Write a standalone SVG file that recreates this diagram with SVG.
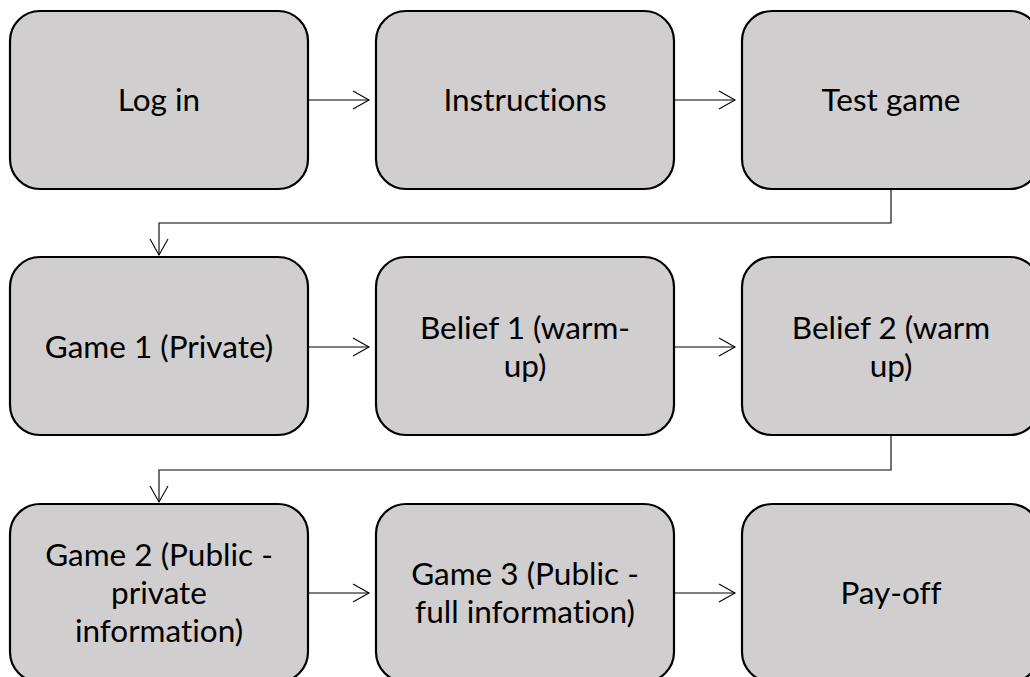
<svg xmlns="http://www.w3.org/2000/svg" width="1030" height="677" viewBox="0 0 1030 677">
<style>
.box{fill:#d0cece;stroke:#000;stroke-width:2.2}
.lbl{font-family:Lato,"Open Sans","Liberation Sans",sans-serif;font-size:31.5px;fill:#000;text-anchor:middle;font-variant-ligatures:none;font-feature-settings:"liga" 0,"dlig" 0}
.con{fill:none;stroke:#000;stroke-width:1.1}
</style>
<defs>
<marker id="arr" markerWidth="20" markerHeight="22" refX="17" refY="10" orient="auto" markerUnits="userSpaceOnUse">
<path d="M1,1 L17,10 L1,19" fill="none" stroke="#000" stroke-width="1.1"/>
</marker>
</defs>
<rect width="1030" height="677" fill="#fff"/>
<g id="n1"><rect class="box" x="10" y="11" width="298" height="178" rx="30"/><text class="lbl" x="159" y="111">Log in</text></g>
<g id="n2"><rect class="box" x="376" y="11" width="298" height="178" rx="30"/><text class="lbl" x="525" y="111">Instructions</text></g>
<g id="n3"><rect class="box" x="742" y="11" width="298" height="178" rx="30"/><text class="lbl" x="891" y="111">Test game</text></g>
<g id="n4"><rect class="box" x="10" y="257" width="298" height="178" rx="30"/><text class="lbl" x="159" y="358">Game 1 (Private)</text></g>
<g id="n5"><rect class="box" x="376" y="257" width="298" height="178" rx="30"/><text class="lbl" x="525" y="339">Belief 1 (warm-</text><text class="lbl" x="525" y="377">up)</text></g>
<g id="n6"><rect class="box" x="742" y="257" width="298" height="178" rx="30"/><text class="lbl" x="891" y="339">Belief 2 (warm</text><text class="lbl" x="891" y="377">up)</text></g>
<g id="n7"><rect class="box" x="10" y="504" width="298" height="178" rx="30"/><text class="lbl" x="159" y="566">Game 2 (Public -</text><text class="lbl" x="159" y="604">private</text><text class="lbl" x="159" y="642">information)</text></g>
<g id="n8"><rect class="box" x="376" y="504" width="298" height="178" rx="30"/><text class="lbl" x="525" y="585">Game 3 (Public -</text><text class="lbl" x="525" y="623">full information)</text></g>
<g id="n9"><rect class="box" x="742" y="504" width="298" height="178" rx="30"/><text class="lbl" x="891" y="604">Pay-off</text></g>
<g id="connectors">
<path class="con" d="M309,100 H369" marker-end="url(#arr)"/>
<path class="con" d="M675,100 H735" marker-end="url(#arr)"/>
<path class="con" d="M891,190 V223 H159 V255" marker-end="url(#arr)"/>
<path class="con" d="M309,347 H369" marker-end="url(#arr)"/>
<path class="con" d="M675,347 H735" marker-end="url(#arr)"/>
<path class="con" d="M891,436 V470 H159 V502" marker-end="url(#arr)"/>
<path class="con" d="M309,593 H369" marker-end="url(#arr)"/>
<path class="con" d="M675,593 H735" marker-end="url(#arr)"/>
</g>
</svg>
